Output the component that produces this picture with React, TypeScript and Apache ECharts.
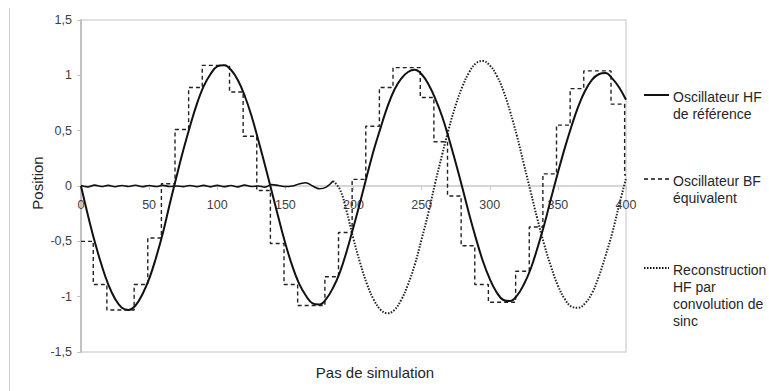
import React, { useEffect, useRef } from "react";
import * as echarts from "echarts";

const FONT = '"Liberation Sans", Arial, Helvetica, sans-serif';

const SERIES_NAMES = [
  "Oscillateur HF\nde référence",
  "Oscillateur BF\néquivalent",
  "Reconstruction\nHF par\nconvolution de\nsinc",
];

const X_TICKS = [0, 50, 100, 150, 200, 250, 300, 350, 400];
const Y_TICKS = [-1.5, -1, -0.5, 0, 0.5, 1, 1.5];

// sample positions (pas de simulation)
const X_SAMPLES = [
  0, 5, 10, 15, 20, 25, 30, 35, 40, 45, 50, 55, 60, 65, 70, 75, 80, 85, 90, 95,
  100, 105, 110, 115, 120, 125, 130, 135, 140, 145, 150, 155, 160, 165, 170, 175, 180, 185, 190, 195,
  200, 205, 210, 215, 220, 225, 230, 235, 240, 245, 250, 255, 260, 265, 270, 275, 280, 285, 290, 295,
  300, 305, 310, 315, 320, 325, 330, 335, 340, 345, 350, 355, 360, 365, 370, 375, 380, 385, 390, 395,
  400,
];

// Oscillateur HF de référence
const HF_REF = [
  0.0, -0.26, -0.5, -0.71, -0.89, -1.02, -1.1, -1.12, -1.08, -0.98, -0.84, -0.65, -0.43, -0.17, 0.08, 0.32, 0.54, 0.74, 0.9, 1.01,
  1.08, 1.09, 1.05, 0.96, 0.82, 0.64, 0.42, 0.19, -0.05, -0.29, -0.52, -0.72, -0.88, -0.99, -1.06, -1.07, -1.02, -0.92, -0.78, -0.59,
  -0.37, -0.14, 0.1, 0.33, 0.53, 0.72, 0.87, 0.97, 1.03, 1.05, 1.01, 0.92, 0.79, 0.63, 0.43, 0.21, -0.02, -0.26, -0.48, -0.68,
  -0.84, -0.96, -1.03, -1.04, -0.99, -0.89, -0.75, -0.56, -0.35, -0.11, 0.12, 0.34, 0.54, 0.72, 0.86, 0.96, 1.01, 1.02, 0.97, 0.89,
  0.78,
];

// Reconstruction HF par convolution de sinc
const RECON = [
  0.005, -0.008, 0.008, -0.005, 0.006, -0.007, 0.005, -0.004, 0.007, -0.006, 0.004, -0.005, 0.006, -0.004, 0.0, -0.006, 0.005, -0.006, 0.006, -0.008,
  0.006, -0.006, 0.004, -0.008, 0.008, -0.004, 0.0, -0.01, 0.012, 0.004, -0.005, 0.0, 0.018, 0.03, 0.0, -0.025, -0.01, 0.045, -0.03, -0.23,
  -0.48, -0.7, -0.89, -1.03, -1.12, -1.15, -1.12, -1.03, -0.89, -0.71, -0.48, -0.24, 0.03, 0.28, 0.52, 0.73, 0.9, 1.03, 1.11, 1.13,
  1.09, 1.0, 0.86, 0.67, 0.45, 0.2, -0.05, -0.3, -0.53, -0.73, -0.9, -1.02, -1.09, -1.1, -1.06, -0.97, -0.82, -0.63, -0.42, -0.17,
  0.07,
];
const RECON_FLAT_END = 37; // index of x = 185, where the flat part ends

// Oscillateur BF équivalent (échantillonné-bloqué)
const BF_X = [
  0, 9, 19, 29, 39, 49, 59, 69, 79, 89, 99, 109, 119, 129, 139, 149, 159, 169, 179, 189,
  199, 209, 219, 229, 239, 249, 259, 269, 279, 289, 299, 309, 319, 329, 339, 349, 359, 369, 379, 389,
  399, 400,
];
const BF_Y = [
  -0.5, -0.89, -1.12, -1.12, -0.89, -0.47, 0.02, 0.51, 0.89, 1.09, 1.09, 0.85, 0.45, -0.04, -0.52, -0.89, -1.08, -1.08, -0.82, -0.42,
  0.06, 0.54, 0.89, 1.07, 1.07, 0.8, 0.4, -0.09, -0.54, -0.89, -1.05, -1.05, -0.77, -0.37, 0.11, 0.55, 0.88, 1.04, 1.04, 0.74,
  0.1, 0.1,
];

const X_TITLE = "Pas de simulation";
const Y_TITLE = "Position";

const GRID_TOP = 20;
const GRID_BOTTOM = 39;
const CHART_H = 391;

export default function App() {
  const ref = useRef<HTMLDivElement>(null);

  useEffect(() => {
    if (!ref.current) return;
    const chart = echarts.init(ref.current, undefined, { renderer: "svg" });

    const hf = X_SAMPLES.map((x, i) => [x, HF_REF[i]]);
    const rc = X_SAMPLES.map((x, i) => [x, RECON[i]]);
    const bf = BF_X.map((x, i) => [x, BF_Y[i]]);

    const gray = "#c9c9c9";
    const legendYs = [97, 181, 270];
    const legendDash: any[] = ["solid", [4, 3], [1.5, 1.5]];
    const legendWidth = [2, 1.4, 2];

    // distance from the grid's bottom edge up to the value 0 of the y axis
    const plotH = CHART_H - GRID_TOP - GRID_BOTTOM;
    const yMin = Y_TICKS[0];
    const yMax = Y_TICKS[Y_TICKS.length - 1];
    const zeroOffset = (plotH * (0 - yMin)) / (yMax - yMin);

    const graphic: any[] = [
      {
        type: "line",
        shape: { x1: 9.5, y1: 8, x2: 9.5, y2: 391 },
        style: { stroke: "#cfcfcf", lineWidth: 1 },
        silent: true,
      },
      {
        type: "text",
        x: 375,
        y: 372,
        style: {
          text: X_TITLE,
          font: `15px ${FONT}`,
          fill: "#262626",
          align: "center",
          verticalAlign: "middle",
        },
      },
      {
        type: "text",
        x: 37,
        y: 183,
        rotation: Math.PI / 2,
        style: {
          text: Y_TITLE,
          font: `15px ${FONT}`,
          fill: "#262626",
          align: "center",
          verticalAlign: "middle",
        },
      },
    ];
    SERIES_NAMES.forEach((name, i) => {
      const cy = legendYs[i];
      graphic.push({
        type: "line",
        shape: { x1: 644, y1: cy - 2, x2: 669, y2: cy - 2 },
        style: {
          stroke: "#111",
          lineWidth: legendWidth[i],
          lineDash: legendDash[i] === "solid" ? null : legendDash[i],
        },
      });
      graphic.push({
        type: "text",
        x: 673,
        y: cy - 8.5,
        style: {
          text: name,
          font: `14px ${FONT}`,
          fill: "#262626",
          lineHeight: 17,
          verticalAlign: "top",
          align: "left",
        },
      });
    });

    chart.setOption({
      animation: false,
      backgroundColor: "#ffffff",
      textStyle: { fontFamily: FONT },
      grid: {
        left: 81,
        right: 143,
        top: GRID_TOP,
        bottom: GRID_BOTTOM,
        show: true,
        borderColor: "#d6d6d6",
        borderWidth: 1.5,
        backgroundColor: "transparent",
      },
      xAxis: {
        type: "value",
        position: "bottom",
        offset: -zeroOffset,
        min: X_TICKS[0],
        max: X_TICKS[X_TICKS.length - 1],
        interval: X_TICKS[1] - X_TICKS[0],
        axisLine: { show: true, onZero: false, lineStyle: { color: gray, width: 1.5 } },
        axisTick: { show: true, length: 4, lineStyle: { color: gray, width: 1 } },
        axisLabel: {
          margin: 12,
          fontSize: 12.5,
          color: "#404040",
          fontFamily: FONT,
          showMinLabel: true,
          showMaxLabel: true,
        },
        splitLine: { show: false },
      },
      yAxis: {
        type: "value",
        min: yMin,
        max: yMax,
        interval: Y_TICKS[1] - Y_TICKS[0],
        axisLine: { show: true, onZero: false, lineStyle: { color: "#c2c2c2", width: 2 } },
        axisTick: { show: true, length: 4, lineStyle: { color: "#c2c2c2", width: 1 } },
        axisLabel: {
          margin: 9,
          fontSize: 12.5,
          color: "#404040",
          fontFamily: FONT,
          formatter: (v: number) => String(v).replace(".", ","),
        },
        splitLine: { show: false },
      },
      series: [
        {
          name: SERIES_NAMES[0],
          type: "line",
          data: hf,
          showSymbol: false,
          smooth: 0.4,
          lineStyle: { color: "#111", width: 2 },
          z: 4,
        },
        {
          name: SERIES_NAMES[1],
          type: "line",
          data: bf,
          step: "end",
          showSymbol: false,
          lineStyle: { color: "#222", width: 1.4, type: [4, 3] },
          z: 3,
        },
        {
          name: SERIES_NAMES[2],
          type: "line",
          data: rc.slice(RECON_FLAT_END),
          showSymbol: false,
          smooth: 0.4,
          lineStyle: { color: "#222", width: 2, type: [1.5, 1.5] },
          z: 2,
        },
        {
          name: "flat",
          type: "line",
          data: rc.slice(0, RECON_FLAT_END + 1),
          showSymbol: false,
          smooth: 0.4,
          lineStyle: { color: "#111", width: 1.6 },
          z: 2,
        },
      ],
      graphic,
    });

    return () => chart.dispose();
  }, []);

  return (
    <div
      ref={ref}
      style={{ position: "fixed", left: 0, top: 0, width: 769, height: 391, background: "#fff" }}
    />
  );
}
